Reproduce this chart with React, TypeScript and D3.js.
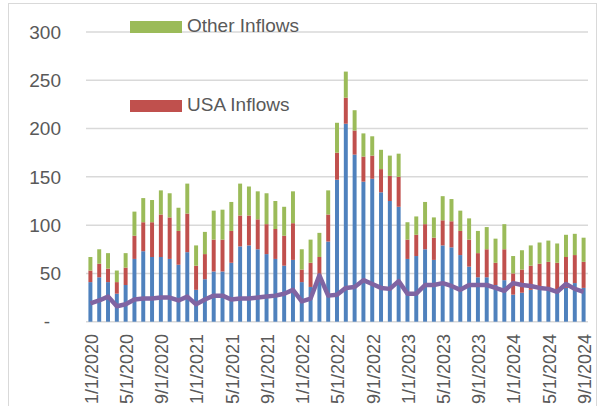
import * as d3 from 'd3'

// monthly categories, 1/1/2020 .. 9/1/2024
const months = [
  '1/1/2020', '2/1/2020', '3/1/2020', '4/1/2020', '5/1/2020', '6/1/2020',
  '7/1/2020', '8/1/2020', '9/1/2020', '10/1/2020', '11/1/2020', '12/1/2020',
  '1/1/2021', '2/1/2021', '3/1/2021', '4/1/2021', '5/1/2021', '6/1/2021',
  '7/1/2021', '8/1/2021', '9/1/2021', '10/1/2021', '11/1/2021', '12/1/2021',
  '1/1/2022', '2/1/2022', '3/1/2022', '4/1/2022', '5/1/2022', '6/1/2022',
  '7/1/2022', '8/1/2022', '9/1/2022', '10/1/2022', '11/1/2022', '12/1/2022',
  '1/1/2023', '2/1/2023', '3/1/2023', '4/1/2023', '5/1/2023', '6/1/2023',
  '7/1/2023', '8/1/2023', '9/1/2023', '10/1/2023', '11/1/2023', '12/1/2023',
  '1/1/2024', '2/1/2024', '3/1/2024', '4/1/2024', '5/1/2024', '6/1/2024',
  '7/1/2024', '8/1/2024', '9/1/2024',
]

// blue (bottom) segment
const baseInflows = [
  41, 46, 41, 29, 38, 65, 73, 67, 67, 65, 59, 72,
  33, 44, 52, 52, 61, 78, 79, 75, 70, 65, 58, 64,
  41, 36, 45, 83, 147, 205, 173, 145, 148, 134, 125, 119,
  65, 68, 75, 64, 79, 77, 69, 57, 46, 46, 38, 43,
  28, 30, 33, 33, 35, 32, 35, 40, 35,
]

const usaInflows = [
  12, 14, 14, 12, 18, 24, 30, 36, 44, 43, 35, 40,
  25, 26, 33, 33, 33, 32, 31, 31, 31, 31, 31, 38,
  13, 25, 22, 28, 28, 27, 25, 26, 24, 24, 26, 31,
  20, 22, 26, 23, 26, 27, 25, 28, 25, 29, 23, 32,
  22, 24, 25, 27, 27, 29, 32, 29, 27,
]

const otherInflows = [
  14, 15, 16, 12, 15, 25, 25, 23, 25, 25, 24, 31,
  21, 23, 30, 31, 30, 33, 30, 29, 32, 29, 30, 33,
  21, 24, 25, 25, 31, 27, 21, 24, 20, 20, 21, 24,
  18, 19, 23, 21, 25, 23, 21, 22, 23, 23, 25, 26,
  18, 20, 21, 22, 22, 20, 23, 22, 25,
]

// purple line
const lineValues = [
  19, 22, 26, 16, 18, 23, 24, 24, 25, 25, 22, 26,
  18, 23, 27, 27, 23, 24, 24, 25, 26, 27, 29, 33,
  21, 24, 48, 27, 28, 35, 36, 43, 39, 35, 34, 42,
  29, 29, 38, 38, 40, 37, 33, 38, 38, 38, 35, 32,
  40, 38, 37, 35, 34, 31, 39, 34, 31,
]

const yTicks = [0, 50, 100, 150, 200, 250, 300]

const W = 597
const H = 406
const font = '"Liberation Sans", Arial, sans-serif'
const textColor = '#595959'
const colors = { base: '#4f81bd', usa: '#c0504d', other: '#9bbb59', line: '#8064a2' }

const App = () => {
  const x = d3.scaleBand<string>().domain(months).range([86, 588]).paddingInner(0.55).paddingOuter(0.275)
  const y = d3.scaleLinear().domain([0, 300]).range([321.7, 32])

  const rows = months.map((m, i) => ({
    m,
    base: baseInflows[i],
    usa: usaInflows[i],
    other: otherInflows[i],
  }))
  const stack = d3.stack<any>().keys(['base', 'usa', 'other'])(rows)

  const cx = (m: string) => (x(m) as number) + x.bandwidth() / 2
  const line = d3.line<number>()
    .x((_, i) => cx(months[i]))
    .y(d => y(d))

  return (
    <svg width={W} height={H} style={{ position: 'absolute', left: 0, top: 0 }} fontFamily={font}>
      <rect x={0} y={0} width={W} height={H} fill="#fff" />
      <rect x={8.5} y={3.5} width={W - 9} height={H + 10} fill="none" stroke="#d9d9d9" />

      {yTicks.map(t => (
        <g key={t}>
          <line x1={86} x2={588} y1={y(t)} y2={y(t)} stroke="#d9d9d9" strokeWidth={1.5} />
          <text x={t === 0 ? 50 : 61} y={y(t)} dy="0.35em" textAnchor="end" fontSize={19} fill={textColor}>
            {t === 0 ? '-' : t}
          </text>
        </g>
      ))}

      {stack.map(layer => (
        <g key={layer.key} fill={(colors as any)[layer.key]}>
          {layer.map((d, i) => (
            <rect key={i} x={x(months[i])} width={x.bandwidth()} y={y(d[1])} height={y(d[0]) - y(d[1])} />
          ))}
        </g>
      ))}

      <path d={line(lineValues) || ''} fill="none" stroke={colors.line} strokeWidth={4.5} strokeLinejoin="round" />

      {months.map((m, i) => i % 4 === 0 && (
        <text key={m} transform={`translate(${cx(m) + 1},334) rotate(-90)`} dy="0.35em" textAnchor="end"
          fontSize={18} fill={textColor}>{m}</text>
      ))}

      <rect x={130} y={21} width={52} height={12} fill={colors.other} />
      <text x={187} y={32} fontSize={19} fill={textColor}>Other Inflows</text>
      <rect x={130} y={100} width={52} height={12} fill={colors.usa} />
      <text x={187} y={111} fontSize={19} fill={textColor}>USA Inflows</text>
    </svg>
  )
}

export default App
